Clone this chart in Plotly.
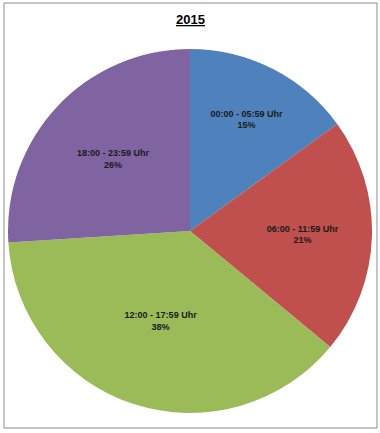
import plotly.graph_objects as go

labels = ["00:00 - 05:59 Uhr", "06:00 - 11:59 Uhr", "12:00 - 17:59 Uhr", "18:00 - 23:59 Uhr"]
values = [15, 21, 38, 26]
colors = ["#4F81BD", "#C0504D", "#9BBB59", "#8064A2"]
title = "2015"

W, H = 380, 433
fig = go.Figure(go.Pie(
    labels=labels,
    values=values,
    sort=False,
    direction="clockwise",
    rotation=0,
    marker=dict(colors=colors, line=dict(width=0)),
    texttemplate="<b>%{label}<br>%{value}%</b>",
    textposition="inside",
    insidetextorientation="horizontal",
    textfont=dict(family="Liberation Sans", size=9, color="#1a1a1a"),
    hole=0,
    showlegend=False,
    domain=dict(x=[8 / W, 372 / W], y=[1 - 413 / H, 1 - 49 / H]),
))

fig.update_layout(
    width=W, height=H,
    margin=dict(l=0, r=0, t=0, b=0),
    paper_bgcolor="white",
    plot_bgcolor="white",
    annotations=[dict(
        text="<b><u>" + title + "</u></b>", x=190 / W, y=1 - 19 / H,
        xref="paper", yref="paper", showarrow=False,
        xanchor="center", yanchor="middle",
        font=dict(family="Liberation Sans", size=13, color="#000000"),
    )],
    shapes=[dict(type="rect", xref="paper", yref="paper",
                 x0=4 / W, x1=377 / W, y0=1 - 428 / H, y1=1 - 3 / H,
                 line=dict(color="#8c8c8c", width=1))],
)

fig.write_html(
    "out.html",
    config={"displayModeBar": False},
    post_script="document.body.style.margin='0';document.body.style.overflow='hidden';",
)
